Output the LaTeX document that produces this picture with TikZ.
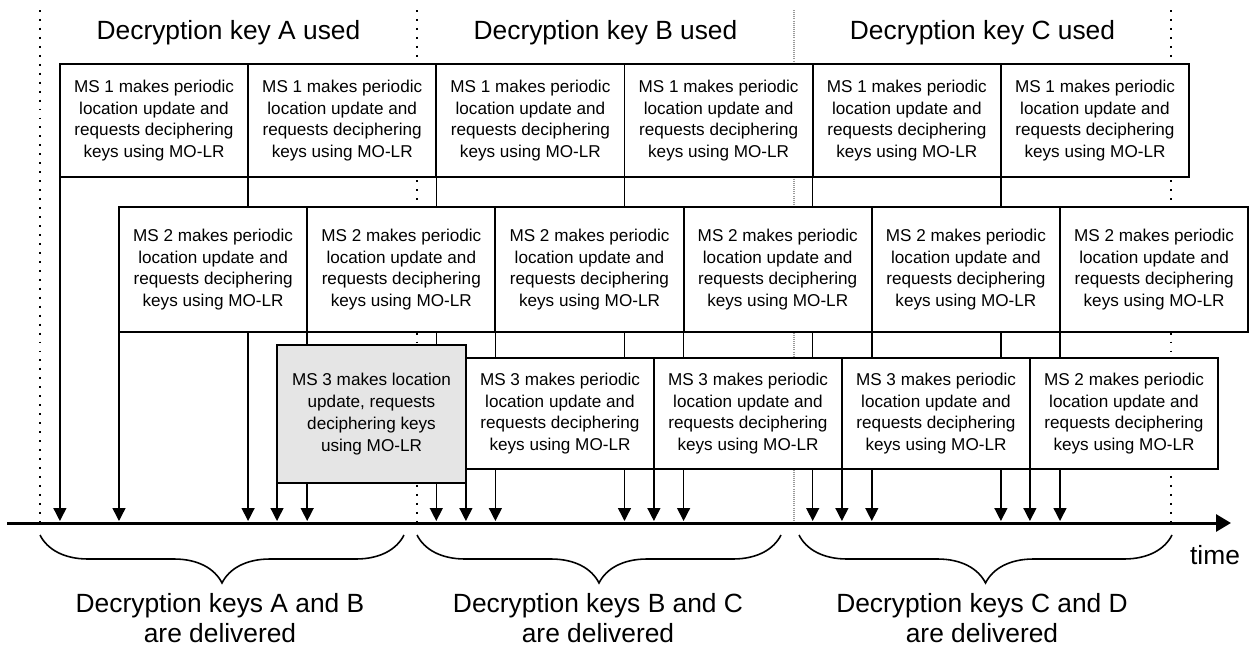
\documentclass[tikz,border=0pt]{standalone}
\usepackage{fontspec}
\setmainfont{Liberation Sans}
\usetikzlibrary{arrows.meta,backgrounds,decorations.pathreplacing}

\begin{document}
\begin{tikzpicture}[x=0.02cm,y=-0.02cm,
  msbox/.style={rectangle,draw=black,line width=1.1pt,fill=white,align=center,
                minimum width=3.765cm,inner sep=0pt,outer sep=0pt,
                font=\fontsize{9.75}{12.4}\selectfont},
  firstlu/.style={msbox,fill=black!10,minimum width=3.78cm,minimum height=2.76cm},
  delivery/.style={draw=black,line width=0.8pt,-{Triangle[length=0.26cm,width=0.26cm]}},
  keyline/.style={line width=1.1pt,dash pattern=on 1.1pt off 4pt},
  keylinegray/.style={black!40,line width=0.6pt,dash pattern=on 0.5pt off 0.7pt},
  keybrace/.style={decorate,decoration={brace,mirror,amplitude=0.96cm},line width=0.9pt},
  big/.style={font=\fontsize{15}{17}\selectfont,inner sep=0pt,align=center}]

  \useasboundingbox (0,0) rectangle (1250,649);

  \coordinate (t0)  at (7,523);
  \coordinate (t1)  at (1231,523);
  \coordinate (tip) at (0,521);

  \node[big,anchor=base] (useA) at (228.5,39) {Decryption key A used};
  \node[big,anchor=base] (useB) at (605.5,39) {Decryption key B used};
  \node[big,anchor=base] (useC) at (982.5,39) {Decryption key C used};

  \foreach \i in {0,...,5} {
    \node[msbox,minimum height=2.26cm] (ms1-\i) at (154+188.2*\i,120.5)
      {MS 1 makes periodic\\location update and\\requests deciphering\\keys using MO-LR};
    \node[msbox,minimum height=2.5cm] (ms2-\i) at (213.1+188.2*\i,269.5)
      {MS 2 makes periodic\\location update and\\requests deciphering\\keys using MO-LR};
  }

  \node[firstlu] (ms3-g) at (371.5,414)
    {MS 3 makes location\\update, requests\\deciphering keys\\using MO-LR};
  \foreach \i/\ms in {0/3,1/3,2/3,3/2}
    \node[msbox,minimum height=2.22cm] (ms3-\i) at (560+188*\i,413.5)
      {MS \ms{} makes periodic\\location update and\\requests deciphering\\keys using MO-LR};

  \begin{scope}[on background layer]
    \foreach \x in {40,417,1171}
      \draw[keyline] (\x,10) -- (\x,521);
    \draw[keylinegray] (794,10) -- (794,521);
    \foreach \i in {0,...,5} {
      \draw[delivery] (ms1-\i.south west) -- (ms1-\i.south west |- tip);
      \draw[delivery] (ms2-\i.south west) -- (ms2-\i.south west |- tip);
    }
    \draw[delivery] (ms3-g.south west) -- (ms3-g.south west |- tip);
    \foreach \i in {0,...,3}
      \draw[delivery] (ms3-\i.south west) -- (ms3-\i.south west |- tip);
  \end{scope}

  \draw[line width=1.7pt,-{Triangle[length=0.3cm,width=0.34cm]}] (t0) -- (t1);
  \node[big,anchor=base] (timelbl) at (1215,564) {time};

  \draw[keybrace] (40,535) -- (404,535);
  \draw[keybrace] (417,535) -- (781,535);
  \draw[keybrace] (799,535) -- (1172,535);

  \node[big,anchor=north] (delivAB) at (220,593) {Decryption keys A and B\\are delivered};
  \node[big,anchor=north] (delivBC) at (598,593) {Decryption keys B and C\\are delivered};
  \node[big,anchor=north] (delivCD) at (982,593) {Decryption keys C and D\\are delivered};
\end{tikzpicture}
\end{document}
